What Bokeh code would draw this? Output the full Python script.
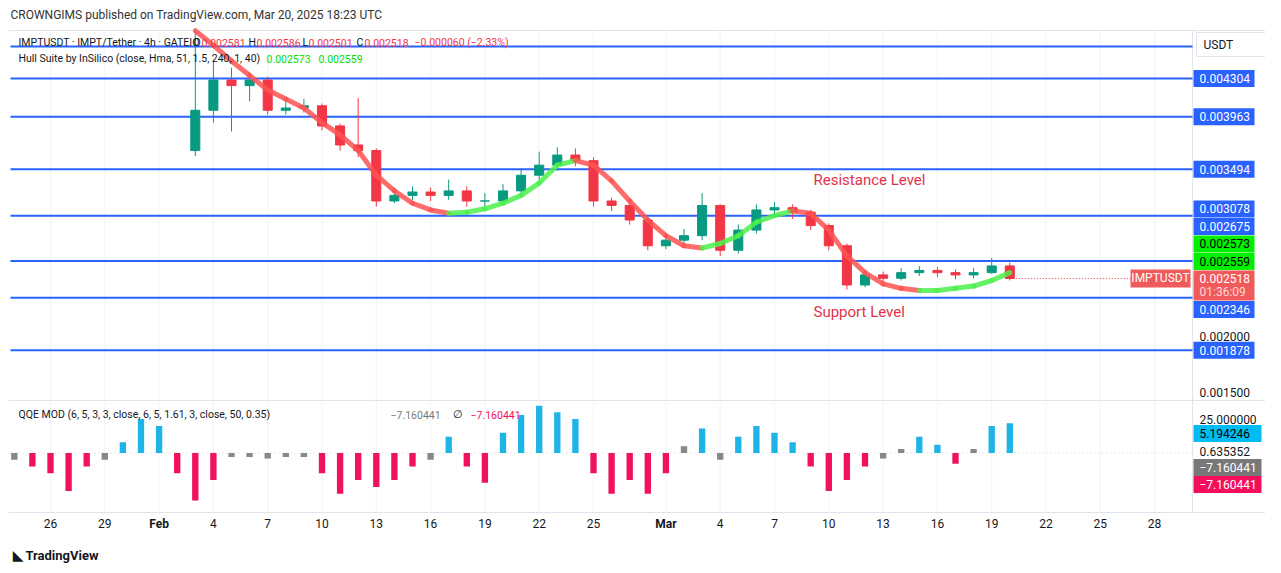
from bokeh.plotting import figure
from bokeh.layouts import column
from bokeh.models import Range1d
from bokeh.core.properties import value
from bokeh.embed import file_html
from bokeh.resources import INLINE

# ---------------- data ----------------
days = list(range(34, 80))  # Feb 3 .. Mar 20 (day of year)
closes = [0.00402, 0.00429, 0.00424, 0.00429, 0.00402, 0.00404, 0.00406, 0.00388, 0.00371, 0.00366,
          0.00321, 0.00326, 0.00329, 0.00326, 0.00330, 0.00321, 0.00321, 0.00330, 0.00344, 0.00353,
          0.00362, 0.00357, 0.00321, 0.00317, 0.00304, 0.00281, 0.00286, 0.00290, 0.00317, 0.00277,
          0.00295, 0.00313, 0.00315, 0.00311, 0.00299, 0.00281, 0.00246, 0.00255, 0.00252, 0.00257,
          0.00259, 0.00257, 0.00255, 0.00257, 0.00263, 0.002518]
first_open = 0.00366
highs = [0.00473, 0.00446, 0.00440, 0.00436, 0.00432, 0.00410, 0.00412, 0.00408, 0.00390, 0.00413,
         0.00368, 0.00333, 0.00334, 0.00333, 0.00340, 0.00334, 0.00328, 0.00336, 0.00350, 0.00365,
         0.00369, 0.00368, 0.00360, 0.00324, 0.00319, 0.00306, 0.00292, 0.00296, 0.00328, 0.00318,
         0.00300, 0.00318, 0.00320, 0.00318, 0.00313, 0.00301, 0.00283, 0.00259, 0.00258, 0.00261,
         0.00263, 0.00262, 0.00260, 0.00261, 0.00270, 0.00266]
lows = [0.00361, 0.00391, 0.00383, 0.00410, 0.00398, 0.00398, 0.00400, 0.00384, 0.00366, 0.00360,
        0.00316, 0.00319, 0.00322, 0.00321, 0.00322, 0.00316, 0.00316, 0.00318, 0.00327, 0.00340,
        0.00348, 0.00352, 0.00316, 0.00312, 0.00300, 0.00277, 0.00278, 0.00283, 0.00286, 0.00272,
        0.00274, 0.00292, 0.00308, 0.00305, 0.00295, 0.00277, 0.00242, 0.00244, 0.00248, 0.00250,
        0.00254, 0.00253, 0.00251, 0.00252, 0.00256, 0.00250]

hull_days = days
hull = [0.00473, 0.00460, 0.00446, 0.00433, 0.00420, 0.00412, 0.00404, 0.00391, 0.00380, 0.00366,
        0.00344, 0.00330, 0.00319, 0.00313, 0.00310, 0.00311, 0.00314, 0.00319, 0.00326, 0.00337,
        0.00353, 0.00357, 0.00353, 0.00339, 0.00321, 0.00304, 0.00290, 0.00281, 0.00279, 0.00283,
        0.00290, 0.00302, 0.00308, 0.00312, 0.00310, 0.00295, 0.00272, 0.00257, 0.00247, 0.00243,
        0.00241, 0.00241, 0.00243, 0.00245, 0.00250, 0.00257]

levels = [0.00459, 0.004304, 0.003963, 0.003494, 0.003078, 0.002675, 0.002346, 0.001878]
tag_vals = [0.004304, 0.003963, 0.003494, 0.003078, 0.002675, 0.002573, 0.002559, 0.002518, 0.002346, 0.001878]
tag_kind = ["lvl", "lvl", "lvl", "lvl", "lvl", "hull", "hull", "price", "lvl", "lvl"]
price_ticks = [0.002, 0.0015]
last_price = 0.002518

qqe_days = list(range(24, 80))
qqe = [-5, -10, -15, -28, -10, -5, 8, 25, 20, -15, -35, -20, -3, -3, -4, -3, -3, -15, -30, -20,
       -25, -20, -10, -5, 12, -10, -22, 15, 28, 35, 30, 25, -15, -30, -20, -30, -15, 5, 18, -5,
       12, 20, 15, 8, -10, -28, -20, -10, -4, 3, 12, 6, -8, 3, 20, 22]
qqe_tags = [("25.000000", 25.0, None), ("5.194246", 5.194246, "#00bcf2"), ("0.635352", 0.635352, None),
            ("−7.160441", -7.160441, "#787878"), ("−7.160441", -7.160441, "#f50f5a")]

tick_days = [26, 29, 32, 35, 38, 41, 44, 47, 50, 53, 56, 60, 63, 66, 69, 72, 75, 78, 81, 84, 87]
tick_labels = ["26", "29", "Feb", "4", "7", "10", "13", "16", "19", "22", "25", "Mar", "4", "7",
               "10", "13", "16", "19", "22", "25", "28"]

# ---------------- layout helpers (page pixels -> data) ----------------
def dx(px): return 26 + (px - 50) / 18.1
def vy(py): return 0.002 + (336 - py) / 112000.0
def qy(py): return (452.5 - py) * 0.738
PXV = 1 / 112000.0
F = value("Roboto")
TXT = "#131722"
BLUE = "#2962ff"
RED = "#f23645"
AX = dx(1192)
H1 = 405
H2 = 160
LS = "10.5px"

def fig(h, yr):
    p = figure(width=1265, height=h, x_range=Range1d(dx(0), dx(1265)), y_range=yr,
               output_backend="svg", toolbar_location=None, min_border=0)
    p.axis.visible = False
    p.grid.visible = False
    p.outline_line_color = None
    return p

def txt(p, x, y, s, color=TXT, size="12px", align="left", bold=False):
    p.text([x], [y], text=[s], text_color=color, text_font=F, text_font_size=size,
           text_align=align, text_baseline="middle", text_font_style="bold" if bold else "normal")

# ---------------- price pane ----------------
p1 = fig(H1, Range1d(vy(H1), vy(0)))
for d in tick_days:
    p1.segment(d, vy(30), d, vy(H1), color="#f0f3fa", line_width=1)
p1.segment(dx(8), vy(30), dx(1273), vy(30), color="#e0e3eb")
p1.segment(AX, vy(30), AX, vy(H1), color="#e0e3eb")
p1.segment(dx(8), vy(400), dx(1273), vy(400), color="#e0e3eb")
for lv in levels:
    p1.segment(dx(10), lv, AX, lv, color=BLUE, line_width=2)

opens = [first_open] + closes[:-1]
cols = ["#089981" if c >= o else RED for o, c in zip(opens, closes)]
p1.segment(days, highs, days, lows, color=cols, line_width=1)
p1.vbar(x=days, top=[max(o, c) for o, c in zip(opens, closes)],
        bottom=[min(o, c) for o, c in zip(opens, closes)], width=0.5, fill_color=cols, line_color=cols)

for i in range(len(hull) - 1):
    c = "#ff5252" if hull[i + 1] < hull[i] else "#4cf04c"
    p1.line([hull_days[i], hull_days[i + 1]], [hull[i], hull[i + 1]], color=c, line_width=5,
            alpha=0.85, line_cap="round")

p1.segment(days[-1], last_price, AX, last_price, color=RED, line_dash="1 2", line_width=1)
p1.quad(left=dx(1130), right=dx(1190), top=last_price + 9 * PXV, bottom=last_price - 9 * PXV,
        fill_color="#f05a5a", line_color=None)
txt(p1, dx(1160), last_price, "IMPTUSDT", "white", align="center")

# right tags, de-overlapped around the price tag
ys = {}
pi = tag_kind.index("price")
ys[pi] = tag_vals[pi]
prev_top = tag_vals[pi] + 8 * PXV
for i in range(pi - 1, -1, -1):
    y = max(tag_vals[i], prev_top + 9 * PXV)
    ys[i] = y
    prev_top = y + 8.5 * PXV
prev_bot = tag_vals[pi] - 22 * PXV
for i in range(pi + 1, len(tag_vals)):
    y = min(tag_vals[i], prev_bot - 9 * PXV)
    ys[i] = y
    prev_bot = y - 8.5 * PXV
for t in price_ticks:
    txt(p1, dx(1199), t, "%.6f" % t)
for i, v in enumerate(tag_vals):
    y = ys[i]
    k = tag_kind[i]
    if k == "price":
        p1.quad(left=dx(1193), right=dx(1254), top=y + 8 * PXV, bottom=y - 22 * PXV, fill_color="#f05a5a", line_color=None)
        txt(p1, dx(1199), y, "%.6f" % v, "white")
        txt(p1, dx(1199), y - 14 * PXV, "01:36:09", "#ffd6d6")
    else:
        fc = BLUE if k == "lvl" else "#00f000"
        p1.quad(left=dx(1193), right=dx(1254), top=y + 8.5 * PXV, bottom=y - 8.5 * PXV, fill_color=fc, line_color=None)
        txt(p1, dx(1199), y, "%.6f" % v, "white" if k == "lvl" else "black")
p1.quad(left=dx(1196), right=dx(1266), top=vy(32), bottom=vy(56), fill_color="white", line_color="#e0e3eb")
txt(p1, dx(1203), vy(44), "USDT")

txt(p1, dx(10), vy(14), "CROWNGIMS published on TradingView.com, Mar 20, 2025 18:23 UTC", "#333333")
txt(p1, dx(18), vy(42), "IMPTUSDT · IMPT/Tether · 4h · GATEIO", size=LS)
for xl, l, xv, v in [(193, "O", 201, "0.002581"), (248, "H", 256, "0.002586"), (302, "L", 308, "0.002501"),
                     (356, "C", 364, "0.002518")]:
    txt(p1, dx(xl), vy(42), l, size=LS)
    txt(p1, dx(xv), vy(42), v, RED, size=LS)
txt(p1, dx(414), vy(42), "−0.000060 (−2.33%)", RED, size=LS)
txt(p1, dx(18), vy(58), "Hull Suite by InSilico (close, Hma, 51, 1.5, 240, 1, 40)", size=LS)
txt(p1, dx(266), vy(58), "0.002573", "#00e000", size=LS)
txt(p1, dx(318), vy(58), "0.002559", "#00e000", size=LS)
txt(p1, dx(813), vy(179), "Resistance Level", "#e0344a", size="15px")
txt(p1, dx(813), vy(311), "Support Level", "#e0344a", size="15px")

# ---------------- QQE pane ----------------
p2 = fig(H2, Range1d(qy(H1 + H2), qy(H1)))
for d in tick_days:
    p2.segment(d, qy(H1), d, qy(512), color="#f0f3fa", line_width=1)
p2.segment(AX, qy(H1), AX, qy(512), color="#e0e3eb")
p2.segment(dx(8), qy(512), dx(1273), qy(512), color="#e0e3eb")
p2.segment(dx(10), 0, AX, 0, color="#d1d4dc", line_dash="1 3")
qc = ["#1eb4e6" if v > 5 else ("#f0125a" if v < -5 else "#888888") for v in qqe]
p2.vbar(x=qqe_days, top=qqe, bottom=0, width=0.35, fill_color=qc, line_color=None)
txt(p2, dx(18), qy(414), "QQE MOD (6, 5, 3, 3, close, 6, 5, 1.61, 3, close, 50, 0.35)", size=LS)
txt(p2, dx(390), qy(414), "−7.160441", "#787878", size=LS)
txt(p2, dx(452), qy(414), "∅", size=LS)
txt(p2, dx(470), qy(414), "−7.160441", "#f50f5a", size=LS)
tag_y = [419, 433, 451, 467, 484]
for (s, v, c), py in zip(qqe_tags, tag_y):
    if c:
        p2.quad(left=dx(1193), right=dx(1261), top=qy(py - 8.5), bottom=qy(py + 8.5), fill_color=c, line_color=None)
        txt(p2, dx(1199), qy(py), s, "black" if c == "#00bcf2" else "white")
    else:
        txt(p2, dx(1199), qy(py), s)
for d, l in zip(tick_days, tick_labels):
    txt(p2, d, qy(523), l, align="center", bold=l in ("Feb", "Mar"))
txt(p2, dx(12), qy(555), "◣ TradingView", "#131722", size="13px", bold=True)

show = column(p1, p2)
open("out.html", "w").write(file_html(show, INLINE))
